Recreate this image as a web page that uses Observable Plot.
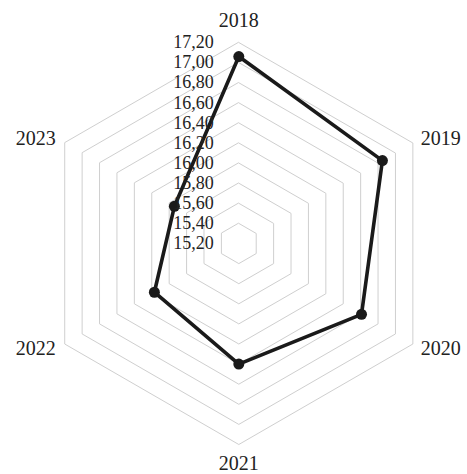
<!DOCTYPE html>
<html>
<head>
<meta charset="utf-8">
<script src="https://cdn.jsdelivr.net/npm/d3@7"></script>
<script src="https://cdn.jsdelivr.net/npm/@observablehq/plot@0.6"></script>
<style>
  html, body { margin: 0; padding: 0; background: #fff; }
  svg text { font-family: "Liberation Serif", "Times New Roman", Times, serif !important; }
</style>
</head>
<body>
<div id="chart"></div>
<script>
// ---- data ----
const categories = ["2018", "2019", "2020", "2021", "2022", "2023"];
const values = [17.06, 16.85, 16.61, 16.40, 16.17, 15.94];
const tickValues = [15.20, 15.40, 15.60, 15.80, 16.00, 16.20, 16.40, 16.60, 16.80, 17.00, 17.20];
const tickLabels = ["15,20", "15,40", "15,60", "15,80", "16,00", "16,20", "16,40", "16,60", "16,80", "17,00", "17,20"];

// ---- layout ----
const W = 467, H = 474;
const cx = 238.3, cy = 243, pxPerUnit = 100.5;
const rMin = tickValues[0], rMax = tickValues[tickValues.length - 1];
const n = categories.length;
const ang = i => Math.PI / 2 - (2 * Math.PI * i) / n;
const px = (v, i) => (v - rMin) * Math.cos(ang(i));
const py = (v, i) => (v - rMin) * Math.sin(ang(i));

const rings = [];
tickValues.slice(1).forEach(t => {
  categories.forEach((c, i) => rings.push({ring: t, x: px(t, i), y: py(t, i)}));
});
const series = categories.map((c, i) => ({cat: c, v: values[i], x: px(values[i], i), y: py(values[i], i)}));
const ticks = tickValues.map((t, k) => ({label: tickLabels[k], x: 0, y: t - rMin}));
const labels = categories.map((c, i) => ({cat: c, i, x: px(rMax, i), y: py(rMax, i)}));

const font = "Liberation Serif";
const lab = (idx, opts) => Plot.text(labels.filter(d => idx.includes(d.i)), {
  x: "x", y: "y", text: "cat", fontSize: 20, fontFamily: font, fill: "#222", ...opts
});

const chart = Plot.plot({
  width: W, height: H,
  marginTop: 0, marginRight: 0, marginBottom: 0, marginLeft: 0,
  style: {fontFamily: font, background: "#fff"},
  x: {domain: [-cx / pxPerUnit, (W - cx) / pxPerUnit], range: [0, W], axis: null},
  y: {domain: [-(H - cy) / pxPerUnit, cy / pxPerUnit], range: [H, 0], axis: null},
  marks: [
    Plot.line(rings, {x: "x", y: "y", z: "ring", curve: "linear-closed", stroke: "#cfcfcf", strokeWidth: 1}),
    Plot.line(series, {x: "x", y: "y", curve: "linear-closed", stroke: "#1a1a1a", strokeWidth: 3.6, strokeLinejoin: "round"}),
    Plot.dot(series, {x: "x", y: "y", r: 5.5, fill: "#1a1a1a"}),
    Plot.text(ticks, {x: "x", y: "y", text: "label", textAnchor: "end", dx: -25, fontSize: 18, fontFamily: font, fill: "#222"}),
    lab([0], {dy: -22}),
    lab([3], {dy: 19}),
    lab([1], {textAnchor: "start", dx: 8, dy: -4.5}),
    lab([2], {textAnchor: "start", dx: 8, dy: 4.5}),
    lab([5], {textAnchor: "end", dx: -9, dy: -4.5}),
    lab([4], {textAnchor: "end", dx: -9, dy: 4.5})
  ]
});
document.getElementById("chart").appendChild(chart);
</script>
</body>
</html>
